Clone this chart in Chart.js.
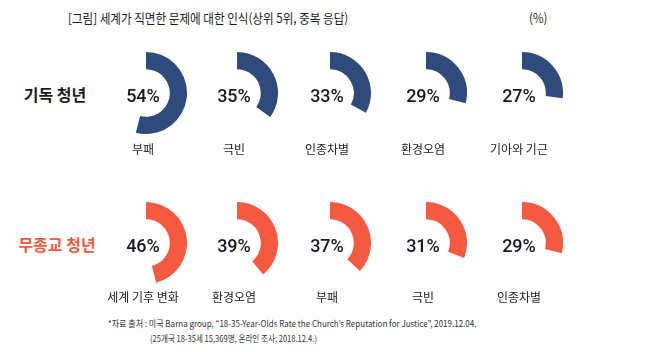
<!DOCTYPE html>
<html>
<head>
<meta charset="utf-8">
<script src="https://cdn.jsdelivr.net/npm/chart.js@4"></script>
<style>
  body { margin: 0; background: #fff; }
  #wrap { position: relative; width: 650px; height: 352px; overflow: hidden; font-family: "Noto Sans CJK KR", "Noto Sans", sans-serif; color: #1b1b1b; }
  .abs { position: absolute; white-space: nowrap; }
  .title { font-size: 13px; transform-origin: left center; transform: scaleX(0.89); }
  .rowname { font-size: 16px; font-weight: 700; transform: translate(-50%, -50%); }
  .pct { font-family: Roboto, "Noto Sans", sans-serif; font-size: 18px; font-weight: 500; transform: translate(-50%, -50%); color: #151a25; }
  .lab { font-size: 12px; transform: translate(-50%, -50%); color: #222; }
  .note { font-size: 9px; transform-origin: left center; transform: scaleX(0.89); color: #333; }
  .note2 { transform: scaleX(0.84); }
  canvas.d { position: absolute; }
</style>
</head>
<body>
<div id="wrap"></div>
<script>
// 기독 청년
const christianCategories = ["부패", "극빈", "인종차별", "환경오염", "기아와 기근"];
const christianValues = [54, 35, 33, 29, 27];
// 무종교 청년
const nonReligiousCategories = ["세계 기후 변화", "환경오염", "부패", "극빈", "인종차별"];
const nonReligiousValues = [46, 39, 37, 31, 29];

const rowNames = ["기독 청년", "무종교 청년"];
const rowColors = ["#2e4b7b", "#f55a40"];
const nameColors = ["#1b1b1b", "#f55a40"];

const wrap = document.getElementById("wrap");
const colX = [146, 237, 330, 426, 522];
const rowY = [93, 243];
const labY = [148, 296];
const R = 41;

function addText(cls, text, x, y, color) {
  const d = document.createElement("div");
  d.className = "abs " + cls;
  d.textContent = text;
  d.style.left = x + "px";
  d.style.top = y + "px";
  if (color) d.style.color = color;
  wrap.appendChild(d);
  return d;
}

addText("title", "[그림] 세계가 직면한 문제에 대한 인식(상위 5위, 중복 응답)", 68, 8);
addText("title", "(%)", 529, 8);

const rows = [
  { cats: christianCategories, vals: christianValues },
  { cats: nonReligiousCategories, vals: nonReligiousValues }
];

rows.forEach((row, r) => {
  addText("rowname", rowNames[r], r === 0 ? 55 : 57, rowY[r] + 1, nameColors[r]);
  row.vals.forEach((v, i) => {
    const c = document.createElement("canvas");
    c.className = "d";
    c.width = R * 2;
    c.height = R * 2;
    c.style.left = (colX[i] - R) + "px";
    c.style.top = (rowY[r] - R) + "px";
    wrap.appendChild(c);
    new Chart(c.getContext("2d"), {
      type: "doughnut",
      data: {
        labels: [row.cats[i], ""],
        datasets: [{
          data: [v, 100 - v],
          backgroundColor: [rowColors[r], "rgba(0,0,0,0)"],
          borderWidth: 0
        }]
      },
      options: {
        responsive: false,
        animation: false,
        cutout: "58%",
        plugins: { legend: { display: false }, tooltip: { enabled: false } }
      }
    });
    addText("pct", v + "%", colX[i] - 3, rowY[r] + 2);
    addText("lab", row.cats[i], colX[i] - 3, labY[r]);
  });
});

addText("note", "*자료 출처 : 미국 Barna group, \u201c18-35-Year-Olds Rate the Church\u2019s Reputation for Justice\u201d, 2019.12.04.", 108, 317);
addText("note note2", "(25개국 18-35세 15,369명, 온라인 조사; 2018.12.4.)", 150, 332);
</script>
</body>
</html>
